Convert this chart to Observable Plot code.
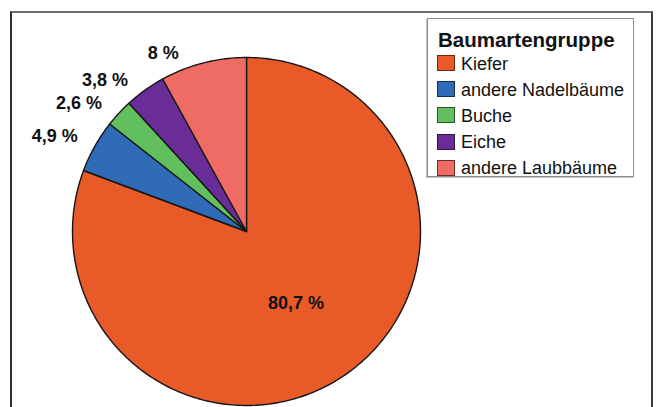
<!DOCTYPE html>
<html lang="de">
<head>
<meta charset="utf-8">
<script src="https://cdn.jsdelivr.net/npm/d3@7"></script>
<script src="https://cdn.jsdelivr.net/npm/@observablehq/plot@0.6"></script>
<style>
  html, body { margin: 0; padding: 0; background: #fff; }
  body { width: 660px; height: 407px; overflow: hidden; font-family: "Liberation Sans", Arial, Helvetica, sans-serif; }
  #wrap { position: relative; width: 660px; height: 407px; }
  #rahmen {
    position: absolute; left: 10px; top: 11px; width: 643px; height: 420px;
    box-sizing: border-box; border-left: 2px solid #2c2c2c; border-right: 2px solid #3a3a3a;
    border-top: 2px solid #6e6e6e;
  }
  #chart { position: absolute; left: 0; top: 0; }
  #legende {
    position: absolute; left: 427px; top: 18px; width: 207px; height: 159px;
    box-sizing: border-box; border: 1px solid #8c8c8c; background: #fff;
    box-shadow: -1px 1px 0 #c4c4c4;
  }
  #legende .titel {
    position: absolute; left: 10px; top: 10.5px; font-size: 20.5px; font-weight: bold;
    line-height: 20px; color: #111; white-space: nowrap;
  }
  #legende .feld {
    position: absolute; left: 9px; width: 18px; height: 16px; box-sizing: border-box;
    border: 1px solid rgba(0,0,0,0.55);
  }
  #legende .name {
    position: absolute; left: 33px; font-size: 18px; line-height: 18px; color: #111; white-space: nowrap;
  }
</style>
</head>
<body>
<div id="wrap">
  <div id="rahmen"></div>
  <div id="chart"></div>
  <div id="legende"></div>
</div>
<script>
// Anteile der Baumartengruppen (in %)
const kategorien = ["Kiefer", "andere Nadelbäume", "Buche", "Eiche", "andere Laubbäume"];
const anteile = [80.7, 4.9, 2.6, 3.8, 8];
const farben = ["#e95a29", "#2f6bb6", "#62bf5e", "#6a2d98", "#ee6c63"];
const legendenTitel = "Baumartengruppe";

const daten = kategorien.map((name, i) => ({name, anteil: anteile[i]}));

// Winkel der Sektoren: 0 = oben, im Uhrzeigersinn
const boegen = d3.pie().sort(null).value(d => d.anteil)(daten);

// Jeder Sektor als geschlossenes Polygon: Mittelpunkt -> Bogen -> Mittelpunkt
const punkte = boegen.flatMap(b => {
  const n = Math.max(2, Math.ceil((b.endAngle - b.startAngle) / (Math.PI / 180)));
  const pts = [{name: b.data.name, x: 0, y: 0}];
  for (let k = 0; k <= n; k++) {
    const a = b.startAngle + (b.endAngle - b.startAngle) * k / n;
    pts.push({name: b.data.name, x: Math.sin(a), y: Math.cos(a)});
  }
  return pts;
});

const format = v => String(v).replace(".", ",") + " %";

// Beschriftungen: großer Sektor innen, kleine Sektoren außen am Bogen
const beschriftung = boegen.map(b => {
  const mitte = (b.startAngle + b.endAngle) / 2;
  const innen = b.data.anteil > 50;
  const r = innen ? 0.5 : 1;
  return {innen, text: format(b.data.anteil), x: r * Math.sin(mitte), y: r * Math.cos(mitte)};
});

const schrift = {fontSize: 18, fontWeight: "bold", fill: "#111", fontFamily: "Liberation Sans, Arial, Helvetica, sans-serif"};

const plot = Plot.plot({
  width: 660,
  height: 407,
  marginLeft: 72,
  marginRight: 240,
  marginTop: 57,
  marginBottom: 2,
  x: {domain: [-1, 1], axis: null},
  y: {domain: [-1, 1], axis: null},
  color: {domain: kategorien, range: farben},
  style: {background: "transparent", overflow: "visible"},
  marks: [
    Plot.line(punkte, {
      x: "x", y: "y", z: "name", fill: "name",
      stroke: "#161616", strokeWidth: 1.4, strokeLinejoin: "round",
      curve: "linear-closed"
    }),
    Plot.text(beschriftung.filter(d => d.innen), {x: "x", y: "y", text: "text", ...schrift}),
    Plot.text(beschriftung.filter(d => !d.innen), {x: "x", y: "y", text: "text", dx: -40, dy: -10, ...schrift})
  ]
});
document.getElementById("chart").appendChild(plot);

// Legende mit den Farben der Farbskala
const farbe = plot.scale("color");
const legende = document.getElementById("legende");
const titel = document.createElement("div");
titel.className = "titel";
titel.textContent = legendenTitel;
legende.appendChild(titel);
const zeile = 26.2;
farbe.domain.forEach((name, i) => {
  const feld = document.createElement("div");
  feld.className = "feld";
  feld.style.top = (36 + zeile * i) + "px";
  feld.style.background = farbe.range[i];
  legende.appendChild(feld);
  const label = document.createElement("div");
  label.className = "name";
  label.style.top = (35.5 + zeile * i) + "px";
  label.textContent = name;
  legende.appendChild(label);
});
</script>
</body>
</html>
